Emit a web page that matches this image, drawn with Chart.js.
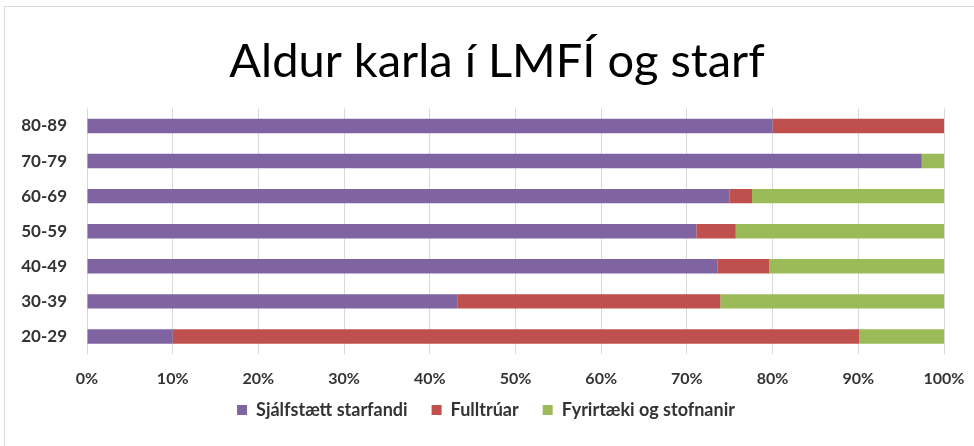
<!DOCTYPE html>
<html>
<head>
<meta charset="utf-8">
<script src="https://cdn.jsdelivr.net/npm/chart.js@4/dist/chart.umd.min.js"></script>
<style>
  html,body{margin:0;padding:0;background:#fff;}
  #wrap{position:absolute;left:4px;top:6px;width:980px;height:450px;border-left:1px solid #d9d9d9;border-top:1px solid #d9d9d9;}
  #c{position:absolute;left:0;top:0;}
</style>
</head>
<body>
<div id="wrap"></div>
<canvas id="c" width="974" height="446"></canvas>
<script>
const categories = ['80-89','70-79','60-69','50-59','40-49','30-39','20-29'];
const sjalfstaett = [80.0, 97.4, 75.0, 71.1, 73.6, 43.2, 10.0];
const fulltruar   = [20.0, 0.0, 2.6, 4.6, 6.0, 30.7, 80.1];
const fyrirtaeki  = [0.0, 2.6, 22.4, 24.3, 20.4, 26.1, 9.9];
const seriesNames = ['Sjálfstætt starfandi','Fulltrúar','Fyrirtæki og stofnanir'];
const xTicks = ['0%','10%','20%','30%','40%','50%','60%','70%','80%','90%','100%'];
const titleText = 'Aldur karla í LMFÍ og starf';

const FONT = "Lato,'Open Sans',sans-serif";
const TXT = '#333333';
const bp = 0.41;
const LEGEND_FIT_PAD = 8, LEGEND_GAP = 24;

// Layout tweaks: shift title / legend horizontally, widen legend item gaps at draw time only
const layoutTweak = {
  id: 'layoutTweak',
  afterLayout(chart) {
    const t = chart.titleBlock;
    if (t) { t.left = 50; t.right = 944; }
    const lg = chart.legend;
    if (lg) {
      lg.options.labels.padding = LEGEND_GAP;
      lg.top -= (LEGEND_GAP - LEGEND_FIT_PAD) - 4;
      lg.left = 16; lg.right = 908;
    }
  },
  afterDraw(chart) {
    const lg = chart.legend;
    if (lg) lg.options.labels.padding = LEGEND_FIT_PAD;
  }
};

new Chart(document.getElementById('c'), {
  type: 'bar',
  data: {
    labels: categories,
    datasets: [
      {label: seriesNames[0], data: sjalfstaett, backgroundColor: '#8064a2', barPercentage: 1, categoryPercentage: bp},
      {label: seriesNames[1], data: fulltruar, backgroundColor: '#c0504d', barPercentage: 1, categoryPercentage: bp},
      {label: seriesNames[2], data: fyrirtaeki, backgroundColor: '#9bbb59', barPercentage: 1, categoryPercentage: bp}
    ]
  },
  plugins: [layoutTweak],
  options: {
    indexAxis: 'y',
    responsive: false,
    animation: false,
    layout: {padding: {left: 16, right: 30, top: 14, bottom: 21}},
    plugins: {
      title: {display: true, text: titleText, color: '#000', font: {family: FONT, size: 47, weight: 'normal'}, padding: {top: 20, bottom: 18}},
      legend: {position: 'bottom', labels: {color: TXT, font: {family: FONT, size: 18, weight: 'bold'}, boxWidth: 10, boxHeight: 10, padding: LEGEND_FIT_PAD}},
      tooltip: {enabled: false}
    },
    scales: {
      x: {
        stacked: true, min: 0, max: 100,
        ticks: {stepSize: 10, color: TXT, font: {family: FONT, size: 16, weight: 'bold'}, padding: 15,
          callback: (v, i) => xTicks[i]},
        grid: {color: '#d9d9d9', drawTicks: false},
        border: {display: false},
        afterFit: s => { s.height = 35; s.paddingLeft = 0; s.paddingRight = 0; }
      },
      y: {
        stacked: true,
        ticks: {color: TXT, font: {family: FONT, size: 17, weight: 'bold'}, padding: 20},
        grid: {display: false, drawTicks: false},
        border: {display: false},
        afterFit: s => { s.width = 71; }
      }
    }
  }
});
</script>
</body>
</html>
